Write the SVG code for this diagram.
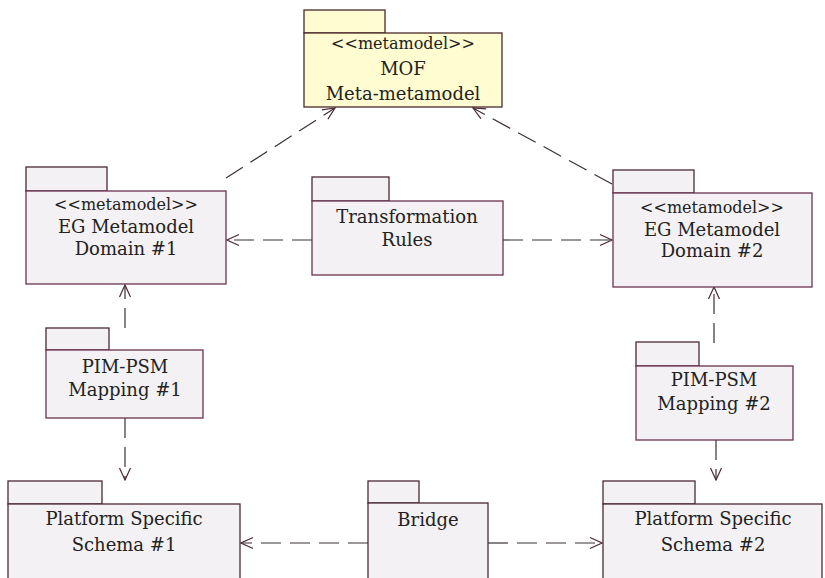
<svg xmlns="http://www.w3.org/2000/svg" width="825" height="578" viewBox="0 0 825 578">
<defs>
<style>
.tab{fill:#f3f1f3;stroke:#4a2a36;stroke-width:1.3}
.body{fill:#f3f1f3;stroke:#6a3350;stroke-width:1.3}
.mof{fill:#fefcd0;stroke:#4a2a2a;stroke-width:1.3}
.t{font-family:"DejaVu Serif","Liberation Serif",serif;font-size:18px;fill:#222;text-anchor:middle}
.s{font-size:16px}
.c{fill:none;stroke:#3a3035;stroke-width:1.2;stroke-dasharray:20 9;marker-end:url(#arr)}
</style>
<marker id="arr" markerUnits="userSpaceOnUse" markerWidth="14" markerHeight="14" viewBox="0 0 14 14" refX="13" refY="7" orient="auto">
<path d="M1,1.5 L13,7 L1,12.5" fill="none" stroke="#4a2a36" stroke-width="1.2"/>
</marker>
</defs>
<rect width="825" height="578" fill="#fff"/>
<g id="connectors">
<line class="c" x1="226" y1="178" x2="335" y2="108"/>
<line class="c" x1="612" y1="184" x2="473" y2="108"/>
<line class="c" x1="312" y1="240" x2="227" y2="240"/>
<line class="c" x1="503" y1="240" x2="612" y2="240"/>
<line class="c" x1="125" y1="328" x2="125" y2="285"/>
<line class="c" x1="125" y1="418" x2="125" y2="480"/>
<line class="c" x1="714" y1="343" x2="714" y2="287"/>
<line class="c" x1="716" y1="440" x2="716" y2="480"/>
<line class="c" x1="368" y1="543" x2="241" y2="543"/>
<line class="c" x1="488" y1="543" x2="602" y2="543"/>
</g>
<g id="mof">
<rect class="mof" x="304" y="10" width="81" height="23"/>
<rect class="mof" x="304" y="33" width="198" height="74"/>
<text class="t s" x="403" y="49">&lt;&lt;metamodel&gt;&gt;</text>
<text class="t" x="403" y="75">MOF</text>
<text class="t" x="403" y="100">Meta-metamodel</text>
</g>
<g id="domain1">
<rect class="tab" x="26" y="167" width="81" height="24"/>
<rect class="body" x="26" y="191" width="200" height="93"/>
<text class="t s" x="126" y="210">&lt;&lt;metamodel&gt;&gt;</text>
<text class="t" x="126" y="233">EG Metamodel</text>
<text class="t" x="126" y="255">Domain #1</text>
</g>
<g id="transformation">
<rect class="tab" x="312" y="177" width="77" height="24"/>
<rect class="body" x="312" y="201" width="191" height="74"/>
<text class="t" x="407" y="223">Transformation</text>
<text class="t" x="407" y="246">Rules</text>
</g>
<g id="domain2">
<rect class="tab" x="613" y="170" width="81" height="23"/>
<rect class="body" x="613" y="193" width="199" height="94"/>
<text class="t s" x="712" y="213">&lt;&lt;metamodel&gt;&gt;</text>
<text class="t" x="712" y="236">EG Metamodel</text>
<text class="t" x="712" y="257">Domain #2</text>
</g>
<g id="pim1">
<rect class="tab" x="46" y="328" width="63" height="22"/>
<rect class="body" x="46" y="350" width="157" height="68"/>
<text class="t" x="125" y="373">PIM-PSM</text>
<text class="t" x="125" y="396">Mapping #1</text>
</g>
<g id="pim2">
<rect class="tab" x="636" y="342" width="63" height="24"/>
<rect class="body" x="636" y="366" width="157" height="74"/>
<text class="t" x="714" y="386">PIM-PSM</text>
<text class="t" x="714" y="410">Mapping #2</text>
</g>
<g id="psm1">
<rect class="tab" x="8" y="481" width="94" height="23"/>
<rect class="tab" x="8" y="504" width="232" height="80"/>
<text class="t" x="124" y="525">Platform Specific</text>
<text class="t" x="124" y="551">Schema #1</text>
</g>
<g id="bridge">
<rect class="tab" x="368" y="481" width="51" height="22"/>
<rect class="tab" x="368" y="503" width="120" height="81"/>
<text class="t" x="428" y="526">Bridge</text>
</g>
<g id="psm2">
<rect class="tab" x="603" y="481" width="92" height="23"/>
<rect class="tab" x="603" y="504" width="219" height="80"/>
<text class="t" x="713" y="525">Platform Specific</text>
<text class="t" x="713" y="551">Schema #2</text>
</g>
</svg>
